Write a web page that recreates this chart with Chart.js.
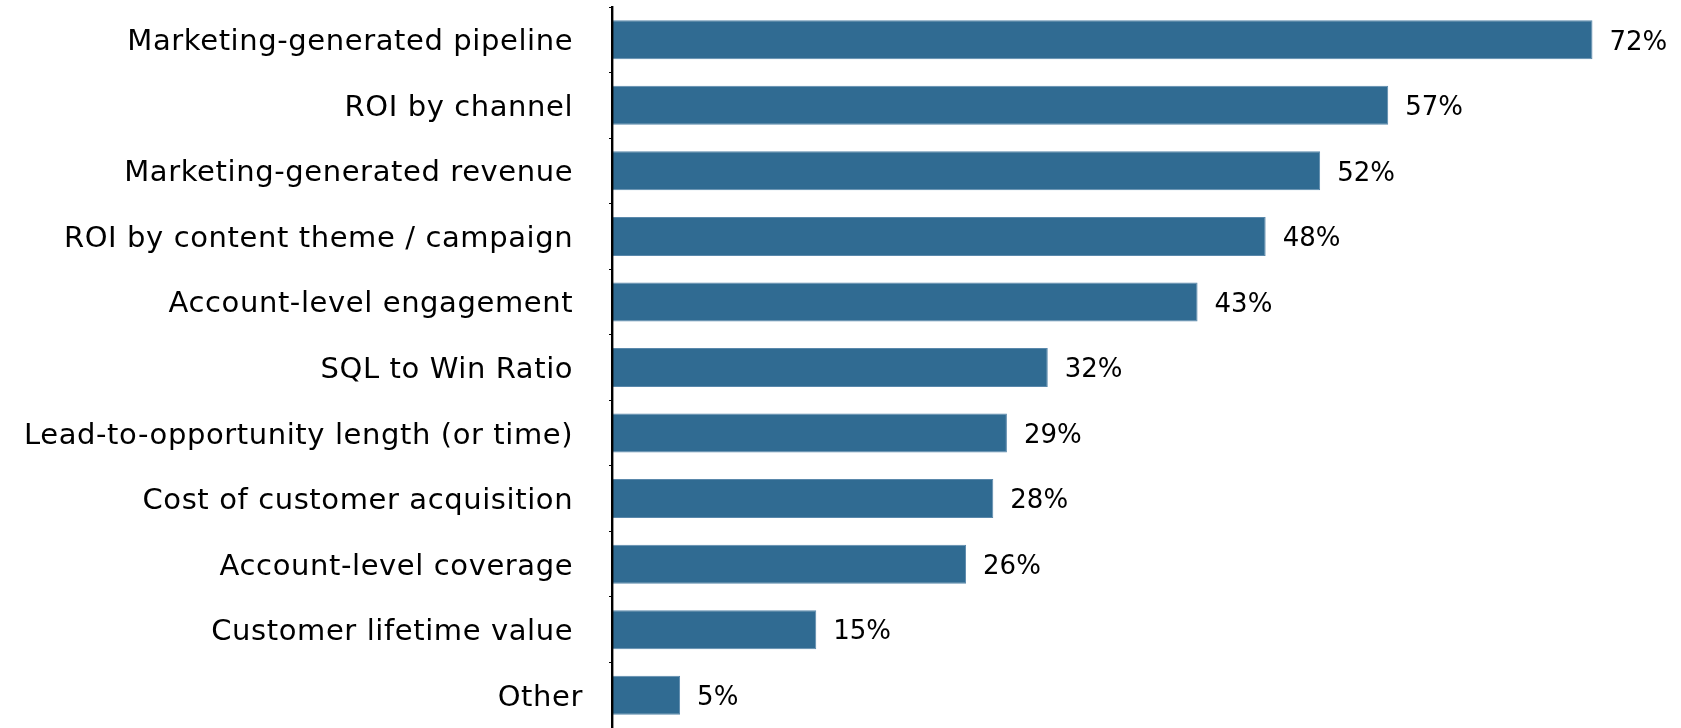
<!DOCTYPE html>
<html>
<head>
<meta charset="utf-8">
<script src="https://cdn.jsdelivr.net/npm/chart.js@4/dist/chart.umd.min.js"></script>
<style>
  html, body { margin: 0; padding: 0; background: #ffffff; }
  #wrap { position: relative; width: 1681px; height: 728px; }
</style>
</head>
<body>
<div id="wrap"><canvas id="chart"></canvas></div>
<script>
// Metrics tracked, share of respondents (%)
const categories = [
  'Marketing-generated pipeline ',
  'ROI by channel ',
  'Marketing-generated revenue ',
  'ROI by content theme / campaign ',
  'Account-level engagement ',
  'SQL to Win Ratio ',
  'Lead-to-opportunity length (or time) ',
  'Cost of customer acquisition ',
  'Account-level coverage ',
  'Customer lifetime value ',
  'Other'
];
const shares = [72, 57, 52, 48, 43, 32, 29, 28, 26, 15, 5];

const FONT = '"DejaVu Sans", sans-serif';

// Slightly open letter spacing for the category labels
const spacing = {
  id: 'spacing',
  beforeDraw(chart) { chart.ctx.letterSpacing = '0.6px'; }
};

// Writes the percentage just past the end of each bar
const valueLabels = {
  id: 'valueLabels',
  afterDatasetsDraw(chart) {
    const ctx = chart.ctx;
    const meta = chart.getDatasetMeta(0);
    ctx.save();
    ctx.letterSpacing = '0px';
    ctx.font = '26px ' + FONT;
    ctx.fillStyle = '#000000';
    ctx.textAlign = 'left';
    ctx.textBaseline = 'middle';
    meta.data.forEach((bar, i) => {
      ctx.fillText(shares[i] + '%', bar.x + 17, bar.y + 3);
    });
    ctx.restore();
  }
};

new Chart(document.getElementById('chart'), {
  type: 'bar',
  data: {
    labels: categories,
    datasets: [{
      data: shares,
      backgroundColor: '#306b92',
      borderColor: '#5a88ab',
      borderWidth: 1,
      categoryPercentage: 1,
      barPercentage: 0.595
    }]
  },
  options: {
    indexAxis: 'y',
    responsive: true,
    maintainAspectRatio: false,
    animation: false,
    layout: { padding: { top: 7, right: 0, bottom: 0, left: 0 } },
    plugins: {
      legend: { display: false },
      tooltip: { enabled: false }
    },
    scales: {
      x: {
        display: false,
        min: 0,
        max: 78.5
      },
      y: {
        afterFit(scale) {
          scale.width = 612;
          scale.paddingTop = 0;
          scale.paddingBottom = 0;
        },
        grid: {
          display: true,
          drawOnChartArea: false,
          drawTicks: true,
          tickLength: 3,
          color: '#000000',
          offset: true
        },
        border: { display: true, color: '#000000', width: 2.4, z: 1 },
        ticks: {
          color: '#000000',
          padding: 26,
          labelOffset: 3,
          font: { family: FONT, size: 29 }
        }
      }
    }
  },
  plugins: [spacing, valueLabels]
});
</script>
</body>
</html>
